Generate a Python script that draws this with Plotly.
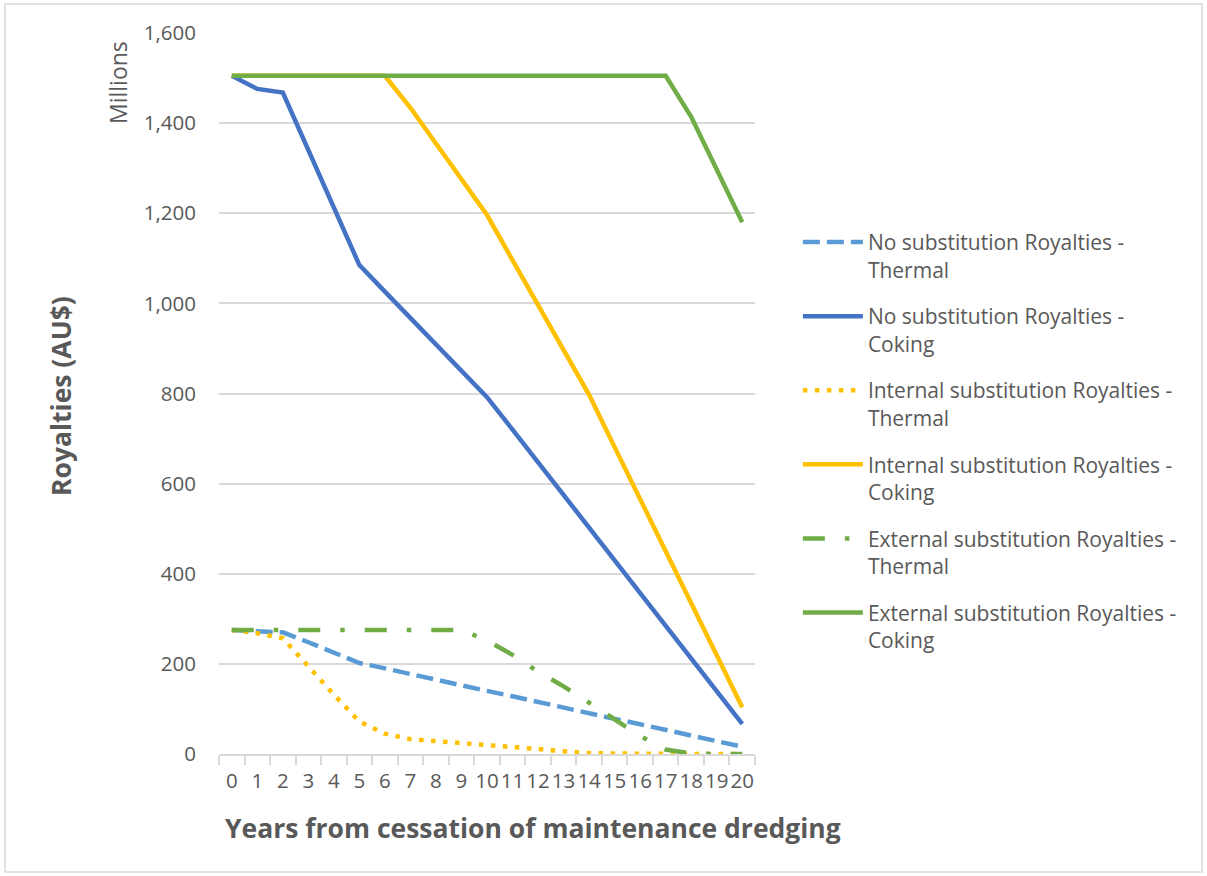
import plotly.graph_objects as go

# Years from cessation of maintenance dredging
years = list(range(21))

# Royalties (AU$), in millions
no_sub_thermal = [275, 273, 270, 248, 225, 202, 190, 177, 165, 152, 140,
                  128, 115, 103, 90, 78, 66, 53, 41, 28, 16]
no_sub_coking = [1505, 1476, 1468, 1340, 1212, 1085, 1026, 968, 909, 851, 792,
                 720, 647, 575, 502, 430, 357, 285, 212, 140, 67]
internal_thermal = [275, 268, 257, 194, 132, 72, 45, 33, 29, 25, 21,
                    17, 11, 6, 2, 1, 0, 0, 0, 0, 0]
internal_coking = [1505, 1505, 1505, 1505, 1505, 1505, 1505, 1434, 1355, 1275, 1196,
                   1096, 996, 897, 797, 681, 566, 450, 335, 219, 104]
external_thermal = [275, 275, 275, 275, 275, 275, 275, 275, 275, 275, 252,
                    220, 183, 150, 114, 78, 40, 10, 1, 0, 0]
external_coking = [1505, 1505, 1505, 1505, 1505, 1505, 1505, 1505, 1505, 1505, 1505,
                   1505, 1505, 1505, 1505, 1505, 1505, 1505, 1414, 1297, 1180]

series_names = [
    "No substitution Royalties -<br>Thermal",
    "No substitution Royalties -<br>Coking",
    "Internal substitution Royalties -<br>Thermal",
    "Internal substitution Royalties -<br>Coking",
    "External substitution Royalties -<br>Thermal",
    "External substitution Royalties -<br>Coking",
]
y_ticks = [0, 200, 400, 600, 800, 1000, 1200, 1400, 1600]

FONT = "Open Sans"
GREY = "#595959"
LW = 4.5

styles = [
    dict(color="#5b9bd5", dash="17px,7px"),
    dict(color="#4472c4", dash="solid"),
    dict(color="#ffc000", dash="4.5px,7.5px"),
    dict(color="#ffc000", dash="solid"),
    dict(color="#70ad47", dash="22px,20px,4.5px,20px"),
    dict(color="#70ad47", dash="solid"),
]
data = [no_sub_thermal, no_sub_coking, internal_thermal,
        internal_coking, external_thermal, external_coking]

fig = go.Figure()
for i, (name, vals, st) in enumerate(zip(series_names, data, styles)):
    fig.add_trace(go.Scatter(
        x=years, y=vals, name=name, mode="lines",
        legendgroup=f"g{i}",
        line=dict(color=st["color"], dash=st["dash"], width=LW),
    ))

fig.update_layout(
    width=1207, height=876,
    margin=dict(l=219, r=452, t=33, b=122),
    paper_bgcolor="white", plot_bgcolor="white",
    font=dict(family=FONT, color=GREY, size=20),
    legend=dict(
        x=1.08, y=0.738, xanchor="left", yanchor="top", valign="top",
        font=dict(family=FONT, size=21, color=GREY),
        tracegroupgap=16.5, itemwidth=60,
        bgcolor="rgba(0,0,0,0)",
    ),
    xaxis=dict(
        type="category", range=[-0.5, 20.5],
        showgrid=False, showline=True, linecolor="#d9d9d9", linewidth=1.5,
        ticks="outside", tickson="boundaries", ticklen=9, tickcolor="#d9d9d9",
        tickwidth=1.5, tickangle=0, tickfont=dict(size=20.5, color=GREY),
        ticklabelstandoff=8,
    ),
    yaxis=dict(
        range=[0, 1600], tickvals=y_ticks, tickformat=",d",
        showgrid=True, gridcolor="#d9d9d9", gridwidth=1.5,
        showline=False, zeroline=False, ticks="",
        tickfont=dict(size=20.5, color=GREY), ticklabelstandoff=22,
    ),
    annotations=[
        dict(text="<b>Royalties (AU$)</b>", xref="paper", yref="paper",
             x=(61 - 219) / 536, y=(754 - 396) / 721, textangle=-90,
             showarrow=False, font=dict(size=26.5, color=GREY, family=FONT),
             xanchor="center", yanchor="middle"),
        dict(text="<b>Years from cessation of maintenance dredging</b>",
             xref="paper", yref="paper",
             x=(533 - 219) / 536, y=(754 - 828) / 721,
             showarrow=False, font=dict(size=26.5, color=GREY, family=FONT),
             xanchor="center", yanchor="middle"),
        dict(text="Millions", xref="paper", yref="paper",
             x=(118 - 219) / 536, y=(754 - 83) / 721, textangle=-90,
             showarrow=False, font=dict(size=23, color=GREY, family=FONT),
             xanchor="center", yanchor="middle"),
    ],
    shapes=[
        dict(type="rect", xref="paper", yref="paper",
             x0=(5 - 219) / 536, x1=(1202 - 219) / 536,
             y0=(754 - 872) / 721, y1=(754 - 4) / 721,
             line=dict(color="#d9d9d9", width=1.5), layer="below"),
    ],
)

fig.write_html("out.html")
